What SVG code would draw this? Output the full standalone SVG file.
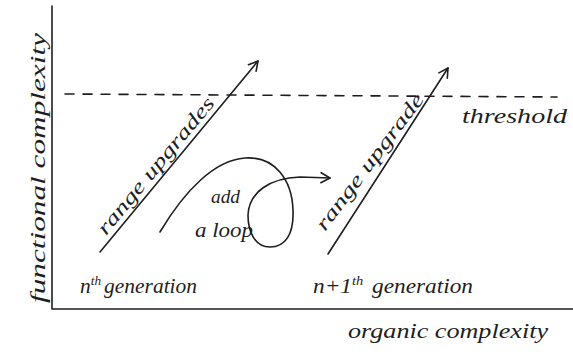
<svg xmlns="http://www.w3.org/2000/svg" width="573" height="358" viewBox="0 0 573 358">
<style>
.ln{fill:none;stroke:#1e1e1e;stroke-width:1.6;stroke-linecap:round;stroke-linejoin:round}
.tx{font-family:"Liberation Serif","DejaVu Serif",serif;font-style:italic;fill:#1e1e1e}
</style>
<defs>
<marker id="vh" viewBox="0 0 12 12" refX="10" refY="6" markerWidth="12" markerHeight="12" markerUnits="userSpaceOnUse" orient="auto">
<polyline points="1,1 10,6 1,11" fill="none" stroke="#1e1e1e" stroke-width="1.6" stroke-linecap="round" stroke-linejoin="round"/>
</marker>
</defs>
<rect width="573" height="358" fill="#fff"/>
<g id="axes">
<path class="ln" d="M52,6 L52,309 L573,309" stroke-width="2"/>
<line class="ln" x1="65" y1="94" x2="557" y2="97" stroke-dasharray="9 9" stroke-width="1.8"/>
</g>
<g id="connectors">
<line class="ln" x1="100" y1="252" x2="258" y2="61" marker-end="url(#vh)"/>
<line class="ln" x1="328" y1="254" x2="448" y2="68" marker-end="url(#vh)"/>
<path class="ln" d="M160,232 C185,190 215,160 245,158 C275,156 292,180 293,210 C294,235 285,247 270,247 C255,247 248,232 248,215 C249,192 270,178 300,177 L330,178" marker-end="url(#vh)"/>
</g>
<g id="labels">
<text class="tx" font-size="22" transform="translate(45,303) rotate(-90)" textLength="270" lengthAdjust="spacingAndGlyphs">functional complexity</text>
<text class="tx" font-size="20" transform="translate(106,236) rotate(-50.4)" textLength="172" lengthAdjust="spacingAndGlyphs">range upgrades</text>
<text class="tx" font-size="20" transform="translate(325,232) rotate(-53)" textLength="166" lengthAdjust="spacingAndGlyphs">range upgrade</text>
<text class="tx" font-size="22" x="462" y="123" textLength="105" lengthAdjust="spacingAndGlyphs">threshold</text>
<text class="tx" font-size="18" x="211" y="203" textLength="29" lengthAdjust="spacingAndGlyphs">add</text>
<text class="tx" font-size="20" x="195" y="237" textLength="58" lengthAdjust="spacingAndGlyphs">a loop</text>
<text class="tx" font-size="21" x="80" y="293" textLength="117" lengthAdjust="spacingAndGlyphs">n<tspan font-size="13" dy="-8">th</tspan><tspan dy="8" dx="3">generation</tspan></text>
<text class="tx" font-size="21" x="313" y="293" textLength="160" lengthAdjust="spacingAndGlyphs">n+1<tspan font-size="13" dy="-8">th</tspan><tspan dy="8" dx="8">generation</tspan></text>
<text class="tx" font-size="22" x="348" y="338" textLength="200" lengthAdjust="spacingAndGlyphs">organic complexity</text>
</g>
</svg>
